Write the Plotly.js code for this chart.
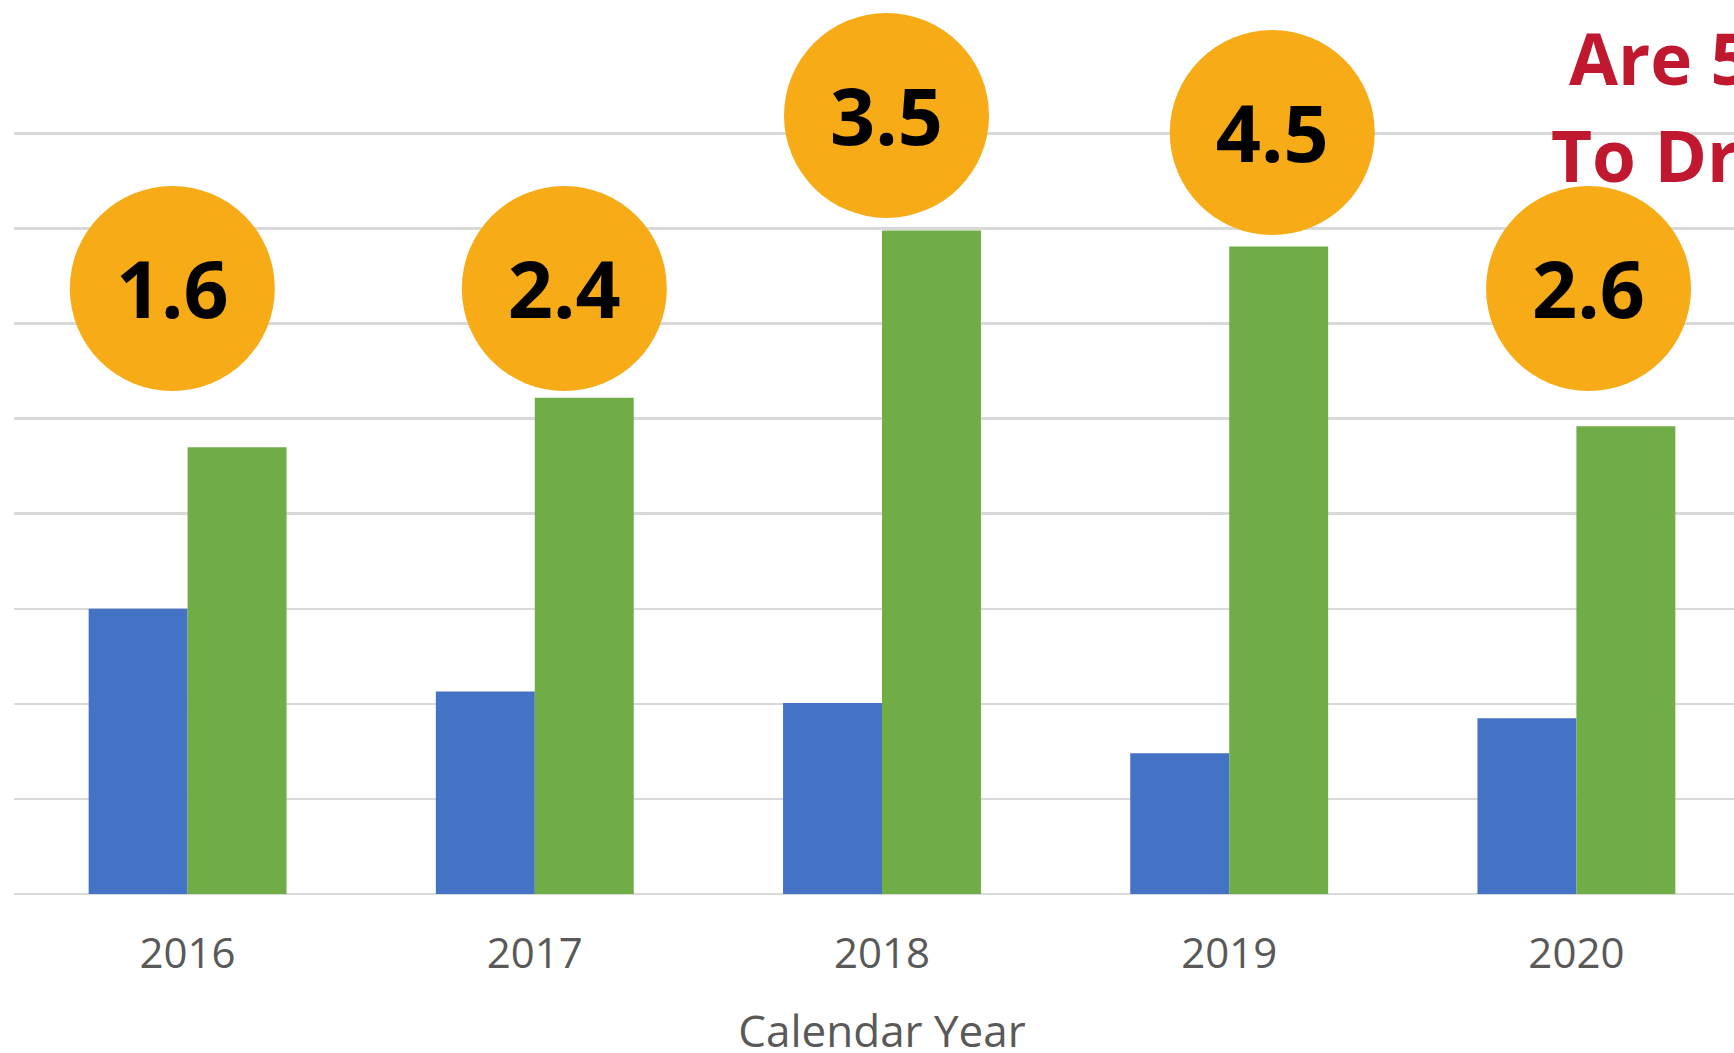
<!DOCTYPE html>
<html>
<head>
<meta charset="utf-8">
<script src="https://cdn.plot.ly/plotly-3.0.1.min.js"></script>
<style>
  html, body { margin: 0; padding: 0; overflow: hidden; background: #ffffff; }
  #chart { width: 1780px; height: 1100px; }
</style>
</head>
<body>
<div id="chart"></div>
<script>
// ---- data ----
const years = ['2016', '2017', '2018', '2019', '2020'];
const blueValues = [3.00, 2.13, 2.01, 1.48, 1.85];
const greenValues = [4.70, 5.22, 6.98, 6.81, 4.92];
const ratioLabels = ['1.6', '2.4', '3.5', '4.5', '2.6'];
const yTicks = [0, 1, 2, 3, 4, 5, 6, 7, 8];

// ---- badge placement (layout, in axis units) ----
const badgeXOffset = [-0.044, 0.085, 0.013, 0.124, 0.035];
const badgeY = [6.37, 6.37, 8.19, 8.01, 6.37];
const badgeTextDrop = 0.105;

const xIdx = years.map((_, i) => i);
const badgeX = xIdx.map((v, i) => v + badgeXOffset[i]);

const traces = [
  {
    type: 'bar',
    name: 'Series 1',
    x: xIdx,
    y: blueValues,
    marker: { color: '#4472C4', line: { width: 0 } },
    hoverinfo: 'y'
  },
  {
    type: 'bar',
    name: 'Series 2',
    x: xIdx,
    y: greenValues,
    marker: { color: '#70AD47', line: { width: 0 } },
    hoverinfo: 'y'
  },
  {
    type: 'scatter',
    mode: 'markers',
    x: badgeX,
    y: badgeY,
    marker: { size: 205, color: '#F6AB17', line: { width: 0 } },
    cliponaxis: false,
    hoverinfo: 'skip'
  },
  {
    type: 'scatter',
    mode: 'text',
    x: badgeX,
    y: badgeY.map(v => v - badgeTextDrop),
    text: ratioLabels,
    textposition: 'middle center',
    textfont: { family: 'Open Sans, sans-serif', size: 79, color: '#000000', weight: 'bold' },
    cliponaxis: false,
    hoverinfo: 'text'
  }
];

const layout = {
  width: 1780,
  height: 1100,
  margin: { l: 13.5, r: 30, t: 0, b: 205.7, pad: 0 },
  paper_bgcolor: '#ffffff',
  plot_bgcolor: '#ffffff',
  showlegend: false,
  barmode: 'group',
  bargap: 0.43,
  bargroupgap: 0,
  font: { family: 'Open Sans, sans-serif', color: '#595959' },
  xaxis: {
    range: [-0.5, 4.5],
    tickvals: xIdx,
    ticktext: years,
    ticks: '',
    showgrid: false,
    zeroline: false,
    showline: false,
    tickfont: { family: 'Open Sans, sans-serif', size: 42, color: '#595959' },
    ticklabelstandoff: 31,
    automargin: false,
    title: {
      text: 'Calendar Year',
      font: { family: 'Open Sans, sans-serif', size: 44, color: '#595959' },
      standoff: 37
    }
  },
  yaxis: {
    range: [0, 9.404],
    tickvals: yTicks,
    showticklabels: false,
    ticks: '',
    showgrid: true,
    gridcolor: '#D9D9D9',
    gridwidth: 2.5,
    zeroline: true,
    zerolinecolor: '#D9D9D9',
    zerolinewidth: 2.5,
    showline: false,
    automargin: false
  },
  annotations: [
    {
      xref: 'paper', yref: 'paper',
      x: (1567 - 13.5) / 1736.5, y: 1 - 85 / 894.3,
      xanchor: 'left', yanchor: 'bottom', yshift: -23,
      text: 'Are 5', showarrow: false,
      font: { family: 'Open Sans, sans-serif', size: 71, color: '#C0192F', weight: 'bold' }
    },
    {
      xref: 'paper', yref: 'paper',
      x: (1549 - 13.5) / 1736.5, y: 1 - 182.7 / 894.3,
      xanchor: 'left', yanchor: 'bottom', yshift: -22,
      text: 'To Dr', showarrow: false,
      font: { family: 'Open Sans, sans-serif', size: 71, color: '#C0192F', weight: 'bold' }
    }
  ]
};

Plotly.newPlot('chart', traces, layout, { displayModeBar: false, staticPlot: true });
</script>
</body>
</html>
